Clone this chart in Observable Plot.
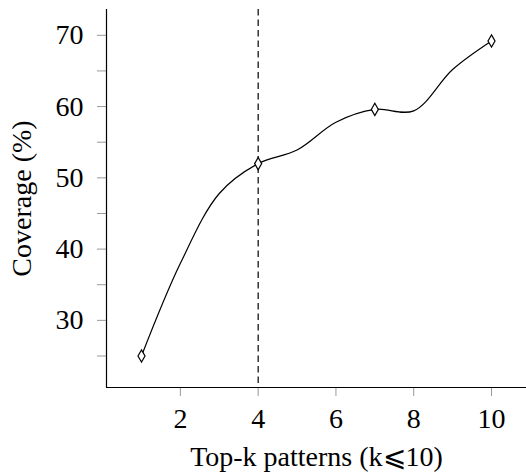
<!DOCTYPE html>
<html>
<head>
<meta charset="utf-8">
<script src="https://cdn.jsdelivr.net/npm/d3@7"></script>
<script src="https://cdn.jsdelivr.net/npm/@observablehq/plot@0.6"></script>
<style>
  html, body { margin: 0; padding: 0; background: #fff; }
  #chart svg { display: block; }
</style>
</head>
<body>
<div id="chart"></div>
<script>
const kValues = [1, 2, 3, 4, 5, 6, 7, 8, 9, 10];
const coverage = [25.0, 38.0, 47.8, 52.0, 53.9, 57.8, 59.6, 59.4, 65.2, 69.2];
const markerK = [1, 4, 7, 10];
const xTicks = [2, 4, 6, 8, 10];
const yTicks = [30, 40, 50, 60, 70];
const yMinorTicks = [25, 35, 45, 55, 65];
const xDomain = [0.1, 10.9];
const yDomain = [20.58, 73.62];
const selectedK = [4];
const xLabel = ["Top-k patterns (k\u2A7D10)"];
const yLabel = ["Coverage (%)"];

const data = kValues.map((k, i) => ({k, c: coverage[i]}));
const markers = data.filter(d => markerK.includes(d.k));

const font = "'Liberation Serif', 'Times New Roman', serif";

const chart = Plot.plot({
  width: 526,
  height: 474,
  marginLeft: 106,
  marginRight: 0,
  marginTop: 9,
  marginBottom: 87,
  style: {fontFamily: font, background: "#fff", color: "#000"},
  x: {domain: xDomain},
  y: {domain: yDomain},
  marks: [
    Plot.axisX({ticks: xTicks, tickSize: 9, tickPadding: 12, stroke: "#999", fill: "#000", fontSize: 28, label: null}),
    Plot.axisY({ticks: yTicks, tickSize: 9, tickPadding: 14, stroke: "#999", fill: "#000", fontSize: 28, label: null}),
    Plot.axisY({ticks: yMinorTicks, tickSize: 9, stroke: "#999", text: null, label: null}),
    Plot.ruleX([xDomain[0]], {stroke: "#000", strokeWidth: 1.2}),
    Plot.ruleY([yDomain[0]], {stroke: "#000", strokeWidth: 1.2}),
    Plot.ruleX(selectedK, {stroke: "#000", strokeWidth: 1.2, strokeDasharray: "6.5,4"}),
    Plot.line(data, {x: "k", y: "c", curve: "catmull-rom", stroke: "#000", strokeWidth: 1.2}),
    Plot.dot(markers, {x: "k", y: "c", symbol: "diamond", r: 3.7, fill: "#fff", stroke: "#000", strokeWidth: 1.2}),
    Plot.text(xLabel, {text: d => d, frameAnchor: "bottom", textAnchor: "middle", lineAnchor: "middle", dy: 70, fontSize: 28, fill: "#000"}),
    Plot.text(yLabel, {text: d => d, frameAnchor: "left", textAnchor: "middle", rotate: -90, lineAnchor: "middle", dx: -84, fontSize: 28, fill: "#000"})
  ]
});
document.getElementById("chart").appendChild(chart);
</script>
</body>
</html>
